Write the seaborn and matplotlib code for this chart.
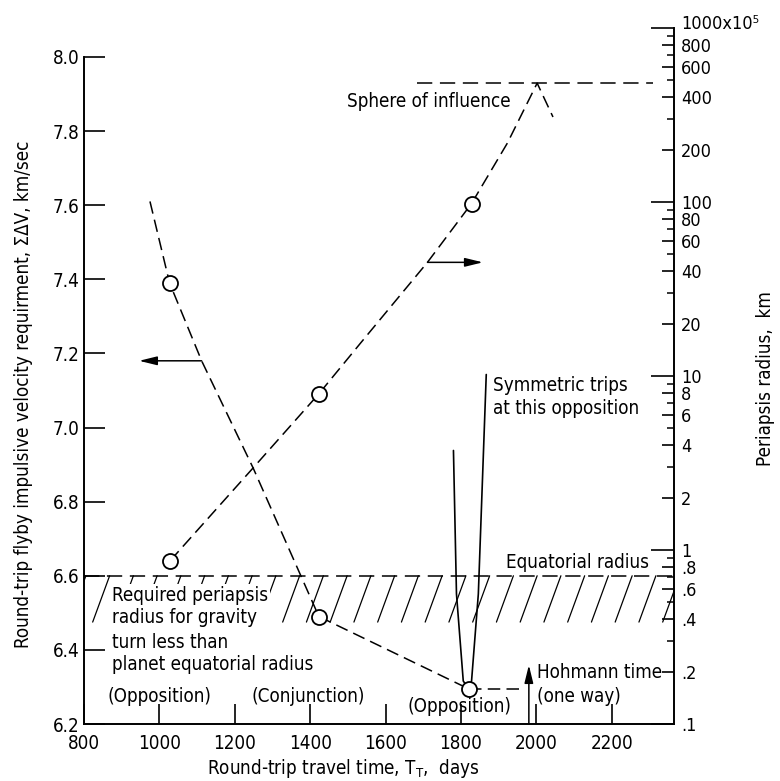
import numpy as np
import pandas as pd
import matplotlib
matplotlib.use("Agg")
import matplotlib.pyplot as plt
from matplotlib.ticker import FixedLocator, FixedFormatter, NullFormatter
import seaborn as sns

# Round-trip flyby velocity requirement (left axis, km/sec) vs trip time (days)
dv_days = [975, 1027, 1112, 1249, 1423, 1820]
dv_values = [7.61, 7.39, 7.18, 6.89, 6.49, 6.295]
dv_marker_days = [1027, 1423, 1820]
dv_marker_values = [7.39, 6.49, 6.295]

# Required periapsis radius (right axis, units of 10^5 km)
rp_days = [1029, 1249, 1423, 1534, 1711, 1828, 1923, 2002, 2044]
rp_values = [0.87, 2.97, 7.9, 15.5, 45, 98, 218, 482, 308]
rp_marker_days = [1029, 1423, 1828]
rp_marker_values = [0.87, 7.9, 98]

# Symmetric trips at the last opposition (left axis)
sym_left_days = [1780, 1788, 1806, 1820]
sym_left_values = [6.938, 6.551, 6.316, 6.295]
sym_right_days = [1867, 1846, 1828, 1820]
sym_right_values = [7.143, 6.551, 6.316, 6.295]

# Hohmann one-way time and its link to the last opposition point
hohmann_days = 1980
hohmann_top = 6.359
hohmann_link_days = [1820, 1962]
hohmann_link_values = [6.295, 6.295]

# Planet limits
equatorial_dv = 6.6            # equatorial radius level, drawn on the left scale
sphere_of_influence = 482      # 10^5 km
sphere_days = [1683, 2309]

# Axis ticks
x_ticks = [800, 1000, 1200, 1400, 1600, 1800, 2000, 2200]
dv_ticks = [6.2, 6.4, 6.6, 6.8, 7.0, 7.2, 7.4, 7.6, 7.8, 8.0]
dv_tick_labels = ["6.2", "6.4", "6.6", "6.8", "7.0", "7.2", "7.4", "7.6", "7.8", "8.0"]
rp_decades = [0.1, 1, 10, 100, 1000]
rp_decade_labels = [".1", "1", "10", "100", ""]
rp_top_label = "1000x10⁵"
rp_labeled = [0.2, 0.4, 0.6, 0.8, 2, 4, 6, 8, 20, 40, 60, 80, 200, 400, 600, 800]
rp_labeled_text = [".2", ".4", ".6", ".8", "2", "4", "6", "8",
                   "20", "40", "60", "80", "200", "400", "600", "800"]
rp_small = [0.3, 0.5, 0.7, 0.9, 3, 5, 7, 9, 30, 50, 70, 90, 300, 500, 700, 900]

FS = 13.5

sns.set_style("ticks")
plt.rcParams.update({
    "font.family": ["DejaVu Sans"],
    "font.stretch": "condensed",
    "font.size": FS,
    "axes.linewidth": 1.4,
    "axes.edgecolor": "black",
    "axes.labelcolor": "black",
    "lines.scale_dashes": False,
    "text.color": "black",
    "xtick.color": "black",
    "ytick.color": "black",
})

fig = plt.figure(figsize=(7.8, 7.81), dpi=100)
ax = fig.add_axes([84 / 780, 1 - 724 / 781, 590 / 780, 696 / 781])
ax2 = ax.twinx()
ax3 = ax.twinx()

dash_curve = (0, (9, 4.5))
dash_level = (0, (11, 5.5))

# --- left-scale content -------------------------------------------------
ax.set_xlim(800, 2365)
ax.set_ylim(6.2, 8.078)

# hatched band below the equatorial radius
hatch_depth, hatch_pitch, hatch_lean = 0.125, 63, 45
for x0 in np.arange(760, 2400, hatch_pitch):
    ax.plot([x0, x0 + hatch_lean], [equatorial_dv - hatch_depth, equatorial_dv],
            color="black", lw=0.9, zorder=1)
ax.axhline(equatorial_dv, color="black", lw=1.1, linestyle=dash_level, zorder=2)

dv_df = pd.DataFrame({"days": dv_days, "dv": dv_values})
sns.lineplot(data=dv_df, x="days", y="dv", ax=ax, sort=False, color="black",
             lw=1.1, linestyle=dash_curve, zorder=3)
sns.lineplot(x=hohmann_link_days, y=hohmann_link_values, ax=ax, sort=False,
             color="black", lw=1.1, linestyle=dash_curve, zorder=3)
sns.lineplot(x=sym_left_days, y=sym_left_values, ax=ax, sort=False,
             color="black", lw=1.2, zorder=3)
sns.lineplot(x=sym_right_days, y=sym_right_values, ax=ax, sort=False,
             color="black", lw=1.2, zorder=3)
sns.scatterplot(x=dv_marker_days, y=dv_marker_values, ax=ax, s=117,
                color="white", edgecolor="black", linewidth=1.3, zorder=5)

arrow = dict(arrowstyle="-|>,head_length=0.9,head_width=0.22", lw=1.1,
             color="black", shrinkA=0, shrinkB=0, mutation_scale=12)
ax.annotate("", xy=(946, 7.18), xytext=(1112, 7.18), arrowprops=arrow)
ax.annotate("", xy=(hohmann_days, hohmann_top), xytext=(hohmann_days, 6.2),
            arrowprops=arrow)

ax.text(874, 6.517, "Required periapsis\nradius for gravity", ha="left",
        va="center", linespacing=1.25, zorder=4,
        bbox=dict(facecolor="white", edgecolor="none", pad=1.5))
ax.text(874, 6.390, "turn less than\nplanet equatorial radius",
        ha="left", va="center", linespacing=1.25, zorder=4)
ax.text(1000, 6.273, "(Opposition)", ha="center", va="center")
ax.text(1395, 6.273, "(Conjunction)", ha="center", va="center")
ax.text(1797, 6.248, "(Opposition)", ha="center", va="center")
ax.text(2001, 6.34, "Hohmann time", ha="left", va="center")
ax.text(2001, 6.273, "(one way)", ha="left", va="center")
ax.text(1884, 7.082, "Symmetric trips\nat this opposition", ha="left",
        va="center", linespacing=1.25)
ax.text(1919, 6.637, "Equatorial radius", ha="left", va="center")
ax.text(1497, 7.879, "Sphere of influence", ha="left", va="center")

ax.set_xticks(x_ticks)
ax.set_xticklabels([str(t) for t in x_ticks])
ax.set_yticks(dv_ticks)
ax.set_yticklabels(dv_tick_labels)
ax.tick_params(axis="x", direction="in", length=14.4, width=1.2, pad=7,
               labelsize=FS, top=False)
ax.tick_params(axis="y", direction="in", length=15, width=1.2, pad=3.5,
               labelsize=FS, right=False)
for side in ("top", "right"):
    ax.spines[side].set_visible(False)
ax.spines["left"].set_bounds(6.2, 8.0)
ax.set_xlabel(r"Round-trip travel time, T$_\mathregular{T}$,  days", fontsize=FS)
ax.xaxis.set_label_coords(0.439, -0.047)
ax.set_ylabel("Round-trip flyby impulsive velocity requirment, ΣΔV, km/sec",
              fontsize=FS)
ax.yaxis.set_label_coords(-0.087, 0.473)

# --- right-scale (log) content ------------------------------------------
for a in (ax2, ax3):
    a.set_yscale("log")
    a.set_ylim(0.1, 1000)
    for side in ("top", "left", "bottom"):
        a.spines[side].set_visible(False)

rp_df = pd.DataFrame({"days": rp_days, "rp": rp_values})
sns.lineplot(data=rp_df, x="days", y="rp", ax=ax2, sort=False, color="black",
             lw=1.1, linestyle=dash_curve, zorder=3)
ax2.hlines(sphere_of_influence, sphere_days[0], sphere_days[1], color="black",
           lw=1.1, linestyle=dash_level)
sns.scatterplot(x=rp_marker_days, y=rp_marker_values, ax=ax2, s=117,
                color="white", edgecolor="black", linewidth=1.3, zorder=5)
ax2.annotate("", xy=(1858, 45), xytext=(1711, 45), arrowprops=arrow)

ax2.yaxis.set_major_locator(FixedLocator(rp_decades))
ax2.yaxis.set_major_formatter(FixedFormatter(rp_decade_labels))
ax2.yaxis.set_minor_locator(FixedLocator(rp_labeled))
ax2.yaxis.set_minor_formatter(FixedFormatter(rp_labeled_text))
ax2.tick_params(axis="y", which="major", direction="in", length=16.5,
                width=1.2, pad=5, labelsize=FS - 0.5)
ax2.tick_params(axis="y", which="minor", direction="in", length=8.6,
                width=1.2, pad=5, labelsize=FS - 0.5)
ax2.annotate(rp_top_label, xy=(1, rp_decades[-1]),
             xycoords=("axes fraction", "data"), xytext=(5, 3),
             textcoords="offset points", ha="left", va="center",
             fontsize=FS - 0.5)
ax2.set_ylabel("Periapsis radius,  km", fontsize=FS)
ax2.yaxis.set_label_coords(1.139, 0.497)

ax3.spines["right"].set_visible(False)
ax3.yaxis.set_major_locator(FixedLocator(rp_small))
ax3.yaxis.set_major_formatter(NullFormatter())
ax3.yaxis.set_minor_locator(FixedLocator([]))
ax3.tick_params(axis="y", which="major", direction="in", length=5, width=1.1)
ax3.set_ylabel("")

ax.set_xlim(800, 2365)
fig.savefig("out.png", dpi=100)
